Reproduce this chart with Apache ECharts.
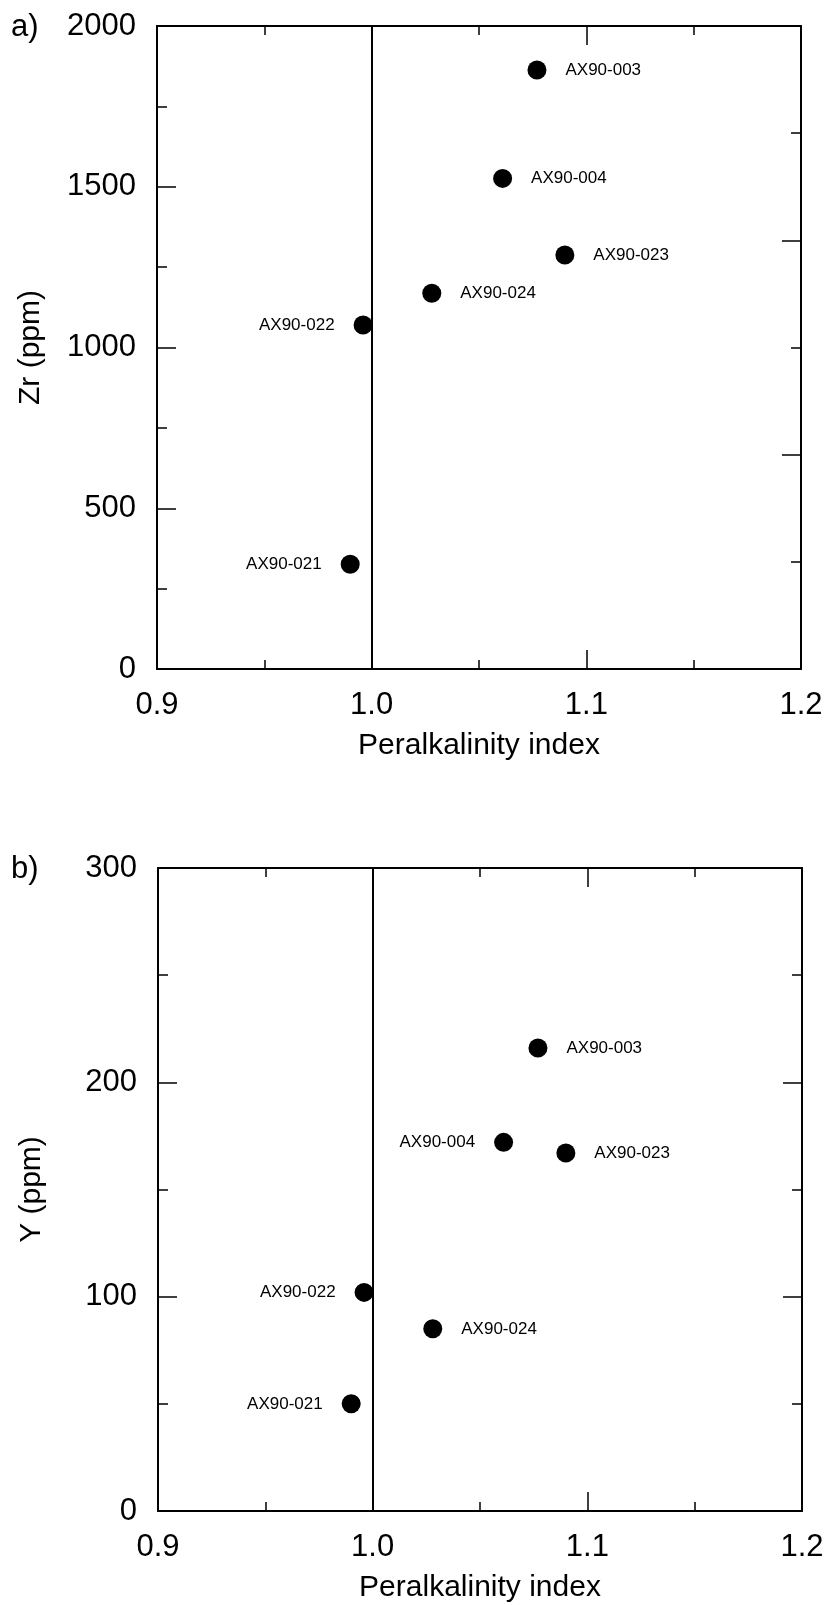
<!DOCTYPE html>
<html>
<head>
<meta charset="utf-8">
<title>Peralkalinity index vs Zr and Y</title>
<script src="https://cdn.jsdelivr.net/npm/echarts@6/dist/echarts.min.js"></script>
<style>
  html, body { margin: 0; padding: 0; background: #fff; }
  #chart { width: 830px; height: 1605px; }
</style>
</head>
<body>
<div id="chart"></div>
<script>
// Sample names and measured values
const samples = ['AX90-003', 'AX90-004', 'AX90-023', 'AX90-024', 'AX90-022', 'AX90-021'];
const peralkalinity = [1.077, 1.061, 1.090, 1.028, 0.996, 0.990];
const zrPpm = [1863, 1526, 1288, 1169, 1070, 326];
const yPpm = [216, 172, 167, 85, 102, 50];

// Axis tick labels
const xTicks = [0.9, 1.0, 1.1, 1.2];
const zrTicks = [0, 500, 1000, 1500, 2000];
const yTicks = [0, 100, 200, 300];

// Peralkaline / metaluminous boundary
const boundaryPI = 1.0;

// Which side each sample label sits on, per panel
const zrLabelSide = ['right', 'right', 'right', 'right', 'left', 'left'];
const yLabelSide = ['right', 'left', 'right', 'right', 'left', 'left'];

const FONT = '"Liberation Sans", Arial, Helvetica, sans-serif';
const BLACK = '#000';

function xAxes(gi) {
  const base = {
    type: 'value', gridIndex: gi,
    min: xTicks[0], max: xTicks[xTicks.length - 1], interval: 0.1,
    axisLine: { show: true, onZero: false, lineStyle: { color: BLACK, width: 2 } },
    axisTick: { show: true, inside: true, length: 19, lineStyle: { color: BLACK, width: 1.5 } },
    minorTick: { show: true, splitNumber: 2, length: 9, lineStyle: { color: BLACK, width: 1.5 } },
    splitLine: { show: false }, minorSplitLine: { show: false }
  };
  return [
    Object.assign({}, base, {
      position: 'bottom',
      name: 'Peralkalinity index', nameLocation: 'middle', nameGap: 62,
      nameTextStyle: { fontFamily: FONT, fontSize: 30, color: BLACK },
      axisLabel: { show: true, fontFamily: FONT, fontSize: 31, color: BLACK, margin: 21,
        formatter: v => v.toFixed(1) }
    }),
    Object.assign({}, base, { position: 'top', axisLabel: { show: false } })
  ];
}

function yAxes(gi, ticks, leftInterval, title, rightMax, rightInterval) {
  const common = {
    type: 'value', gridIndex: gi, min: 0,
    axisLine: { show: true, onZero: false, lineStyle: { color: BLACK, width: 2 } },
    axisTick: { show: true, inside: true, length: 19, lineStyle: { color: BLACK, width: 1.5 } },
    minorTick: { show: true, splitNumber: 2, length: 10, lineStyle: { color: BLACK, width: 1.5 } },
    splitLine: { show: false }, minorSplitLine: { show: false }
  };
  return [
    Object.assign({}, common, {
      position: 'left', max: ticks[ticks.length - 1], interval: leftInterval,
      name: title, nameLocation: 'middle', nameGap: 111,
      nameTextStyle: { fontFamily: FONT, fontSize: 30, color: BLACK },
      axisLabel: { show: true, fontFamily: FONT, fontSize: 31, color: BLACK, margin: 21,
        formatter: v => String(Math.round(v)) }
    }),
    Object.assign({}, common, {
      position: 'right', max: rightMax, interval: rightInterval,
      axisLabel: { show: false }
    })
  ];
}

function scatterSeries(gi, values, sides) {
  return {
    type: 'scatter', xAxisIndex: gi * 2, yAxisIndex: gi * 2,
    symbol: 'circle', symbolSize: 19,
    itemStyle: { color: BLACK, opacity: 1 },
    emphasis: { disabled: true },
    animation: false,
    data: samples.map((name, i) => ({
      value: [peralkalinity[i], values[i]],
      name: name,
      label: { position: sides[i] }
    })),
    label: {
      show: true, distance: 19,
      formatter: p => p.name,
      fontFamily: FONT, fontSize: 17, color: BLACK
    },
    markLine: {
      silent: true, animation: false, symbol: 'none',
      label: { show: false },
      lineStyle: { color: BLACK, width: 2, type: 'solid', opacity: 1 },
      data: [{ xAxis: boundaryPI }]
    }
  };
}

const chart = echarts.init(document.getElementById('chart'), null, { renderer: 'canvas' });

const xa = xAxes(0).concat(xAxes(1));
const ya = yAxes(0, zrTicks, 500, 'Zr (ppm)', 6, 2).concat(yAxes(1, yTicks, 100, 'Y (ppm)', 300, 100));

chart.setOption({
  backgroundColor: '#fff',
  animation: false,
  grid: [
    { left: 157, top: 26, width: 644, height: 643, containLabel: false, outerBoundsMode: 'none' },
    { left: 158, top: 868, width: 644, height: 643, containLabel: false, outerBoundsMode: 'none' }
  ],
  xAxis: xa,
  yAxis: ya,
  graphic: [
    { type: 'text', left: 11, top: 12, style: { text: 'a)', fontFamily: FONT, fontSize: 31, fill: BLACK } },
    { type: 'text', left: 11, top: 854, style: { text: 'b)', fontFamily: FONT, fontSize: 31, fill: BLACK } }
  ],
  series: [
    scatterSeries(0, zrPpm, zrLabelSide),
    scatterSeries(1, yPpm, yLabelSide)
  ]
});
</script>
</body>
</html>
